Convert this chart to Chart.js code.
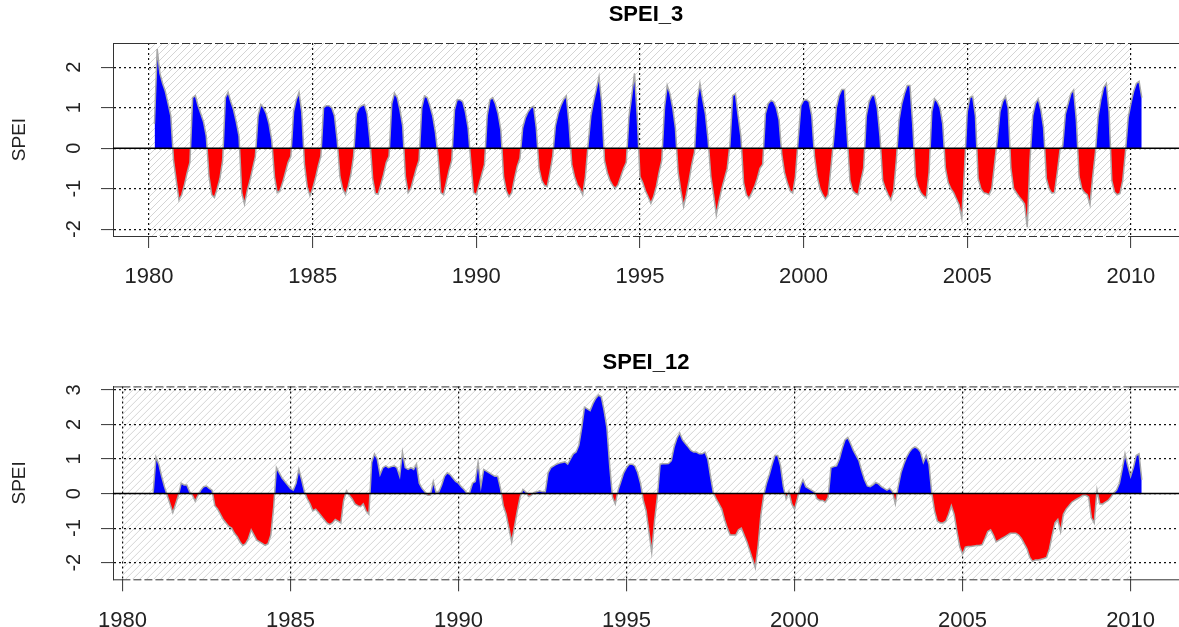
<!DOCTYPE html>
<html lang="en">
<head>
<meta charset="UTF-8" />
<title>SPEI_3 / SPEI_12</title>
<script src="https://cdn.jsdelivr.net/npm/chart.js"></script>
<style>
  body { margin: 0; background: #fff; }
  .panel { position: absolute; left: 0; width: 1179px; }
  #top { top: 0; height: 313px; }
  #bottom { top: 313px; height: 314px; }
</style>
</head>
<body>

<div class="panel" id="top"><canvas id="c3"></canvas></div>
<div class="panel" id="bottom"><canvas id="c12"></canvas></div>

<script>
  // monthly series starting Jan 1980
  const startYear = 1980;
  const yearTicks = [1980, 1985, 1990, 1995, 2000, 2005, 2010];
  const hatchYears = [1980, 2010];
  const spei3Ticks = [-2, -1, 0, 1, 2];
  const spei12Ticks = [-2, -1, 0, 1, 2, 3];

  const spei3 = [
    null, null, 0.6, 2.45, 1.85, 1.6, 1.4, 1.1, 0.8, -0.3, -0.8, -1.28,
    -1.15, -0.9, -0.6, -0.35, 1.25, 1.3, 1.05, 0.85, 0.65, 0.3, -0.7, -1.15,
    -1.22, -1.0, -0.75, -0.3, 1.25, 1.38, 1.15, 0.95, 0.65, 0.3, -1.1, -1.38,
    -1.05, -0.8, -0.5, -0.2, 0.8, 1.08, 1.0, 0.85, 0.6, 0.2, -0.7, -1.1,
    -1.05, -0.85, -0.6, -0.35, -0.2, 0.9, 1.2, 1.38, 0.9, -0.4, -0.95, -1.17,
    -1.0, -0.75, -0.45, -0.2, 1.0, 1.05, 1.05, 1.0, 0.8, 0.2, -0.7, -1.0,
    -1.14, -0.95, -0.65, -0.2, 0.85, 1.0, 1.05, 1.08, 0.85, 0.2, -0.75, -1.12,
    -1.14, -0.9, -0.65, -0.35, -0.2, 1.1, 1.36, 1.25, 0.95, 0.55, -0.7, -1.1,
    -1.0, -0.75, -0.5, -0.3, 1.0, 1.29, 1.25, 1.05, 0.8, 0.4, -0.2, -1.1,
    -1.15, -0.85, -0.55, -0.3, 0.95, 1.2, 1.2, 1.15, 0.9, 0.5, -0.35, -1.1,
    -1.15, -0.9, -0.65, -0.4, 0.8, 1.2, 1.25, 1.1, 0.85, 0.45, -0.7, -1.05,
    -1.2, -1.1, -0.75, -0.45, -0.25, 0.5, 0.75, 0.9, 1.0, 1.04, 0.5, -0.5,
    -0.8, -0.92, -0.95, -0.6, -0.2, 0.55, 0.85, 1.05, 1.2, 1.29, 0.6, -0.4,
    -0.7, -0.9, -1.0, -1.15, -0.7, 0.1, 0.8, 1.15, 1.45, 1.77, 1.1, -0.3,
    -0.6, -0.8, -0.92, -0.99, -0.9, -0.7, -0.5, -0.35, 0.8, 1.3, 1.85, 0.8,
    -0.7, -0.85, -1.05, -1.2, -1.36, -1.2, -0.95, -0.6, -0.3, 1.0, 1.55, 1.35,
    1.0, 0.5, -0.6, -1.05, -1.44, -1.15, -0.8, -0.4, -0.1, 1.2, 1.6, 1.2,
    0.85, 0.2, -0.7, -1.15, -1.65, -1.3, -1.0, -0.75, -0.5, 0.1, 1.3, 1.35,
    0.8, 0.3, -0.85, -1.15, -1.24, -1.1, -0.95, -0.75, -0.5, -0.4, 0.85, 1.1,
    1.18, 1.15, 1.0, 0.7, -0.15, -0.6, -0.85, -1.05, -1.11, -0.7, 0.2, 1.05,
    1.18, 1.2, 1.15, 0.8, -0.2, -0.7, -1.0, -1.15, -1.26, -1.15, -0.5, 0.2,
    1.0, 1.3, 1.45, 1.45, 0.3, -0.8, -1.05, -1.12, -1.15, -0.8, -0.5, 0.8,
    1.15, 1.3, 1.3, 1.0, 0.3, -0.8, -1.0, -1.15, -1.28, -1.05, -0.3, 0.7,
    1.1, 1.35, 1.55, 1.55, 0.6, -0.7, -0.95, -1.1, -1.18, -1.23, -0.6, 0.9,
    1.22, 1.15, 1.0, 0.6, -0.5, -0.85, -1.0, -1.1, -1.25, -1.4, -1.73, -0.5,
    0.9, 1.25, 1.28, 0.8, -0.75, -1.0, -1.1, -1.12, -1.15, -1.0, -0.4, 0.2,
    0.9, 1.15, 1.28, 1.0, -0.5, -1.0, -1.1, -1.2, -1.28, -1.38, -1.95, -0.3,
    0.8, 1.1, 1.22, 0.95, 0.5, -0.75, -1.0, -1.11, -1.1, -0.6, -0.05, 0.05,
    0.85, 1.1, 1.35, 1.44, 0.7, -0.7, -1.0, -1.1, -1.15, -1.4, -0.7, -0.1,
    0.8, 1.2, 1.5, 1.6, 0.9, -0.8, -1.08, -1.15, -1.12, -0.8, -0.1, 0.75,
    1.1, 1.4, 1.6, 1.65, 1.25
  ];

  const spei12 = [
    null, null, null, null, null, null, null, null, null, null, null, 0.05,
    1.05, 0.85, 0.5, 0.2, -0.05, -0.3, -0.55, -0.3, -0.05, 0.3, 0.25, 0.25,
    0.05, -0.05, -0.22, -0.05, 0.1, 0.2, 0.22, 0.15, 0.1, -0.35, -0.45, -0.6,
    -0.75, -0.85, -0.95, -1.0, -1.15, -1.25, -1.4, -1.5, -1.45, -1.3, -1.05, -1.2,
    -1.35, -1.4, -1.45, -1.5, -1.45, -1.2, -0.4, 0.75, 0.6, 0.45, 0.35, 0.25,
    0.15, 0.1, 0.3, 0.7, 0.4, 0.05, -0.15, -0.3, -0.5, -0.45, -0.55, -0.65,
    -0.75, -0.85, -0.9, -0.85, -0.75, -0.8, -0.85, -0.2, 0.08, -0.05, -0.15, -0.3,
    -0.35, -0.38, -0.3, -0.5, -0.6, 0.9, 1.15, 1.0, 0.55, 0.75, 0.8, 0.75,
    0.78, 0.8, 0.75, 0.5, 1.2, 0.75, 0.7, 0.75, 0.7, 0.85, 0.3, 0.15,
    0.05, -0.05, -0.04, 0.35, 0.03, 0.05, 0.25, 0.5, 0.6, 0.55, 0.45, 0.35,
    0.3, 0.2, 0.12, 0.02, 0.03, 0.3, 0.35, 0.9, 0.2, 0.7, 0.65, 0.6,
    0.55, 0.5, 0.5, 0.15, -0.35, -0.6, -1.0, -1.4, -0.95, -0.5, -0.1, 0.12,
    0.05, -0.08, -0.05, 0.03, 0.05, 0.08, 0.05, 0.05, 0.6, 0.75, 0.8, 0.85,
    0.88, 0.9, 0.92, 0.85, 1.0, 1.15, 1.2, 1.4, 1.9, 2.5, 2.45, 2.4,
    2.6, 2.75, 2.85, 2.8, 2.4, 1.9, 0.8, -0.1, -0.3, 0.1, 0.35, 0.6,
    0.75, 0.85, 0.85, 0.8, 0.6, 0.3, -0.2, -0.5, -1.1, -1.7, -0.8, -0.1,
    0.85, 0.86, 0.86, 0.87, 0.95, 1.35, 1.6, 1.75, 1.55, 1.45, 1.35, 1.25,
    1.2, 1.2, 1.15, 1.15, 1.2, 1.0, 0.5, 0.02, -0.15, -0.3, -0.45, -0.75,
    -1.0, -1.2, -1.2, -1.2, -1.05, -1.0, -1.2, -1.4, -1.65, -1.9, -2.15, -1.5,
    -0.6, -0.05, 0.3, 0.55, 0.85, 1.1, 1.1, 0.8, 0.2, -0.15, 0.05, -0.3,
    -0.45, -0.15, 0.2, 0.4, 0.2, 0.15, 0.1, 0.05, -0.15, -0.2, -0.2, -0.25,
    -0.1, 0.75, 0.78, 0.8, 1.0, 1.3, 1.55, 1.62, 1.45, 1.25, 1.1, 0.95,
    0.65, 0.4, 0.22, 0.2, 0.25, 0.32, 0.28, 0.2, 0.15, 0.1, 0.15, 0.05,
    -0.3, 0.2, 0.6, 0.85, 1.05, 1.2, 1.3, 1.35, 1.3, 1.2, 0.9, 1.1,
    0.85, 0.02, -0.5, -0.8, -0.85, -0.85, -0.8, -0.6, -0.35, -0.6, -1.1, -1.55,
    -1.75, -1.55, -1.53, -1.53, -1.52, -1.5, -1.5, -1.48, -1.3, -1.1, -1.05, -1.2,
    -1.4, -1.35, -1.3, -1.25, -1.2, -1.15, -1.15, -1.15, -1.2, -1.3, -1.45, -1.6,
    -1.85, -1.96, -1.92, -1.92, -1.9, -1.88, -1.85, -1.6, -1.2, -0.85, -0.75, -1.1,
    -0.6, -0.45, -0.35, -0.25, -0.2, -0.15, -0.1, -0.05, -0.05, -0.1, -0.7, -0.85,
    0.1, -0.3, -0.3, -0.25, -0.2, -0.1, 0.02, 0.1, 0.3, 0.7, 1.15, 0.8,
    0.5, 0.75, 1.1, 1.15, 0.4
  ];

  const FONT = "'Liberation Sans', Arial, sans-serif";

  // hatch, box, zero line and the rotated y labels
  const decor = {
    id: 'decor',
    beforeDraw(chart) {
      const { ctx, chartArea: a, scales: { x } } = chart;
      ctx.save();
      ctx.fillStyle = '#fff';
      ctx.fillRect(0, 0, chart.width, chart.height);
      const x1 = x.getPixelForValue(hatchYears[0]);
      const x2 = x.getPixelForValue(hatchYears[1]);
      ctx.beginPath();
      ctx.rect(x1, a.top, x2 - x1, a.bottom - a.top);
      ctx.clip();
      ctx.strokeStyle = '#d4d4d4';
      ctx.lineWidth = 1;
      const h = a.bottom - a.top;
      ctx.beginPath();
      for (let k = x1 - h; k < x2; k += 7) {
        ctx.moveTo(k, a.bottom);
        ctx.lineTo(k + h, a.top);
      }
      ctx.stroke();
      ctx.restore();
    },
    afterDatasetsDraw(chart) {
      const { ctx, chartArea: a, scales: { y } } = chart;
      const y0 = y.getPixelForValue(0);
      ctx.save();
      ctx.strokeStyle = '#000';
      ctx.lineWidth = 1.5;
      ctx.beginPath();
      ctx.moveTo(a.left, y0);
      ctx.lineTo(a.right, y0);
      ctx.stroke();
      ctx.restore();
    },
    afterDraw(chart, args, opts) {
      const { ctx, chartArea: a, scales: { x, y } } = chart;
      const x1 = x.getPixelForValue(hatchYears[0]);
      const x2 = x.getPixelForValue(hatchYears[1]);
      ctx.save();
      ctx.strokeStyle = '#333';
      ctx.lineWidth = 1;
      [a.top + 0.5, a.bottom + 0.5].forEach(yy => {
        ctx.setLineDash([]);
        ctx.beginPath();
        ctx.moveTo(a.left, yy); ctx.lineTo(x1, yy);
        ctx.moveTo(x2, yy); ctx.lineTo(a.right, yy);
        ctx.stroke();
        ctx.setLineDash([8, 3]);
        ctx.beginPath();
        ctx.moveTo(x1, yy); ctx.lineTo(x2, yy);
        ctx.stroke();
      });
      ctx.setLineDash([]);
      ctx.fillStyle = '#222';
      ctx.font = '20px ' + FONT;
      ctx.textAlign = 'center';
      ctx.textBaseline = 'middle';
      opts.ticks.forEach(v => {
        ctx.save();
        ctx.translate(74, y.getPixelForValue(v));
        ctx.rotate(-Math.PI / 2);
        ctx.fillText(String(v), 0, 0);
        ctx.restore();
      });
      ctx.restore();
    }
  };

  function makeChart(id, title, values, ticks, xMin, xMax, yMin, yMax, layout) {
    const points = values.map((v, i) => ({ x: startYear + i / 12, y: v }));
    return new Chart(document.getElementById(id), {
      type: 'line',
      data: {
        datasets: [{
          data: points,
          borderColor: '#a8a8a8',
          borderWidth: 1.5,
          pointRadius: 0,
          tension: 0,
          spanGaps: false,
          fill: { target: 'origin', above: '#0000ff', below: '#ff0000' }
        }]
      },
      options: {
        responsive: true,
        maintainAspectRatio: false,
        animation: false,
        devicePixelRatio: 1,
        events: [],
        layout: { padding: 0 },
        scales: {
          x: {
            type: 'linear',
            min: xMin,
            max: xMax,
            afterBuildTicks: s => { s.ticks = yearTicks.map(v => ({ value: v })); },
            afterFit: s => { s.height = layout.xHeight; },
            grid: { color: '#111', lineWidth: 1.2, tickLength: 12, tickColor: '#333', tickWidth: 1 },
            border: { display: false, dash: [2, 3] },
            ticks: {
              font: { family: FONT, size: 22 },
              color: '#222',
              padding: layout.xPad,
              maxRotation: 0,
              callback: v => String(v)
            }
          },
          y: {
            min: yMin,
            max: yMax,
            afterBuildTicks: s => { s.ticks = ticks.map(v => ({ value: v })); },
            afterFit: s => { s.width = 113; },
            grid: { color: '#111', lineWidth: 1.2, tickLength: 12, tickColor: '#333', tickWidth: 1 },
            border: { display: true, color: '#333', width: 1, dash: [2, 3] },
            ticks: { display: false },
            title: {
              display: true,
              text: 'SPEI',
              font: { family: FONT, size: 19 },
              color: '#222',
              padding: { top: 8, bottom: 0 }
            }
          }
        },
        plugins: {
          legend: { display: false },
          tooltip: { enabled: false },
          title: {
            display: true,
            text: title,
            fullSize: false,
            color: '#000',
            font: { family: FONT, size: 22, weight: 'bold' },
            padding: { top: layout.titleTop, bottom: layout.titleBottom }
          },
          decor: { ticks }
        }
      },
      plugins: [decor]
    });
  }

  makeChart('c3', 'SPEI_3', spei3, spei3Ticks, 1978.9, 2011.47, -2.17, 2.6,
    { xHeight: 77, xPad: 16, titleTop: 2, titleBottom: 14.6 });
  makeChart('c12', 'SPEI_12', spei12, spei12Ticks, 1979.72, 2011.44, -2.48, 3.1,
    { xHeight: 47.7, xPad: 16, titleTop: 37, titleBottom: 10 });
</script>

</body>
</html>
